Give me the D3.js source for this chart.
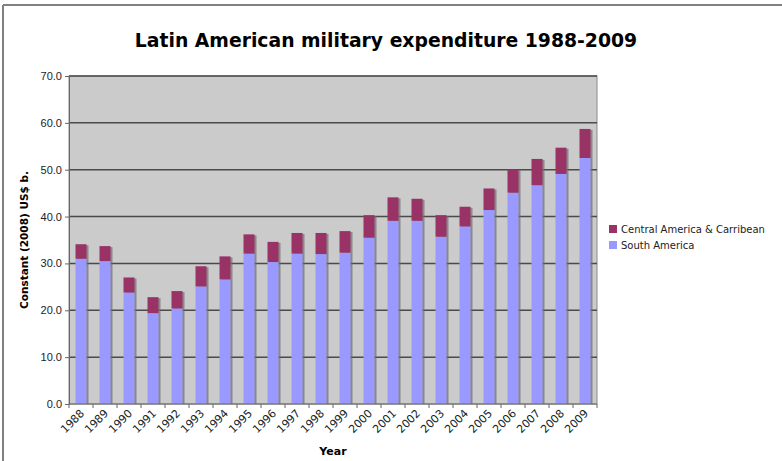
<!DOCTYPE html>
<html>
<head>
<meta charset="utf-8">
<script src="https://cdn.jsdelivr.net/npm/d3@7"></script>
<style>
  body { margin: 0; background: #fff; }
  svg { font-family: "DejaVu Sans", Verdana, sans-serif; }
</style>
</head>
<body>
<svg id="chart" width="782" height="461"></svg>
<script>
const years = ["1988","1989","1990","1991","1992","1993","1994","1995","1996","1997","1998",
  "1999","2000","2001","2002","2003","2004","2005","2006","2007","2008","2009"];
const southAmerica = [31.0,30.5,23.8,19.4,20.4,25.1,26.6,32.1,30.3,32.1,32.0,
  32.3,35.5,39.1,39.1,35.7,37.9,41.4,45.1,46.7,49.1,52.5];
const centralAmerica = [3.1,3.2,3.2,3.4,3.7,4.3,4.9,4.1,4.3,4.4,4.5,
  4.6,4.8,5.0,4.7,4.6,4.2,4.6,5.0,5.6,5.6,6.2];
const seriesNames = ["South America", "Central America & Carribean"];
const yTicks = [0, 10, 20, 30, 40, 50, 60, 70];

const colors = { "South America": "#9999ff", "Central America & Carribean": "#993366" };

const margin = { top: 76, left: 69, right: 185, bottom: 57 };
const W = 782, H = 461;
const plotW = W - margin.left - margin.right;
const plotH = H - margin.top - margin.bottom;

const svg = d3.select("#chart");

// outer frame (only top and left visible)
svg.append("line").attr("x1", 3).attr("x2", W).attr("y1", 5).attr("y2", 5)
  .attr("stroke", "#808080").attr("stroke-width", 2);
svg.append("line").attr("x1", 3).attr("x2", 3).attr("y1", 5).attr("y2", H)
  .attr("stroke", "#808080").attr("stroke-width", 2);

svg.append("text")
  .attr("x", 386).attr("y", 47)
  .attr("text-anchor", "middle")
  .style("font-size", "18.8px").style("font-weight", "bold")
  .text("Latin American military expenditure 1988-2009");

const g = svg.append("g").attr("transform", `translate(${margin.left},${margin.top})`);

const x = d3.scaleBand().domain(years).range([0, plotW]);
const y = d3.scaleLinear().domain([0, 70]).range([plotH, 0]);

g.append("rect").attr("width", plotW).attr("height", plotH)
  .attr("fill", "#cbcbcb").attr("stroke", "#8a8a8a");

// gridlines
g.selectAll("line.grid").data(yTicks.slice(1)).enter().append("line")
  .attr("class", "grid")
  .attr("x1", 0).attr("x2", plotW)
  .attr("y1", d => y(d)).attr("y2", d => y(d))
  .attr("stroke", "#4a4a4a").attr("stroke-width", 1.5);

const rows = years.map((yr, i) => ({ year: yr, "South America": southAmerica[i], "Central America & Carribean": centralAmerica[i] }));
const stack = d3.stack().keys(seriesNames)(rows);

const barW = 11;
const barX = d => x(d.data.year) + (x.bandwidth() - barW) / 2;

// shadows
g.selectAll("rect.shadow").data(stack[1]).enter().append("rect")
  .attr("class", "shadow")
  .attr("x", d => barX(d) + 2)
  .attr("y", d => y(d[1]) + 1)
  .attr("width", barW)
  .attr("height", d => y(0) - y(d[1]) - 1)
  .attr("fill", "#6e6e6e").attr("opacity", 0.7);

stack.forEach(s => {
  g.selectAll(null).data(s).enter().append("rect")
    .attr("x", d => barX(d))
    .attr("y", d => y(d[1]))
    .attr("width", barW)
    .attr("height", d => y(d[0]) - y(d[1]))
    .attr("fill", colors[s.key]);
});

// y axis
const yAxis = g.append("g")
  .call(d3.axisLeft(y).tickValues(yTicks).tickFormat(d3.format(".1f")).tickSize(4));
yAxis.select(".domain").attr("stroke", "#666");
yAxis.selectAll("line").attr("stroke", "#666");
yAxis.selectAll("text").style("font-size", "11px").attr("fill", "#222").attr("x", -7);

// x axis: ticks between categories
const xAxis = g.append("g").attr("transform", `translate(0,${plotH})`);
xAxis.append("line").attr("x1", 0).attr("x2", plotW).attr("stroke", "#666");
xAxis.selectAll("line.tick").data(d3.range(years.length + 1)).enter().append("line")
  .attr("class", "tick")
  .attr("x1", i => i * x.step()).attr("x2", i => i * x.step())
  .attr("y1", 0).attr("y2", 4).attr("stroke", "#666");
xAxis.selectAll("text").data(years).enter().append("text")
  .attr("transform", d => `translate(${x(d) + x.bandwidth() / 2 + 4},${10}) rotate(-45)`)
  .attr("text-anchor", "end")
  .style("font-size", "11px").attr("fill", "#222")
  .text(d => d);

svg.append("text")
  .attr("x", 333).attr("y", 455)
  .attr("text-anchor", "middle")
  .style("font-size", "11px").style("font-weight", "bold")
  .text("Year");

svg.append("text")
  .attr("transform", `translate(28,${margin.top + plotH / 2}) rotate(-90)`)
  .attr("text-anchor", "middle")
  .style("font-size", "10.5px").style("font-weight", "bold")
  .text("Constant (2008) US$ b.");

// legend
const legendItems = ["Central America & Carribean", "South America"];
const legend = svg.append("g").attr("transform", "translate(609,225)");
legendItems.forEach((k, i) => {
  const row = legend.append("g").attr("transform", `translate(0,${i * 16})`);
  row.append("rect").attr("width", 8).attr("height", 8).attr("fill", colors[k]);
  row.append("text").attr("x", 12).attr("y", 8)
    .style("font-size", "10px").attr("fill", "#222").text(k);
});
</script>
</body>
</html>
